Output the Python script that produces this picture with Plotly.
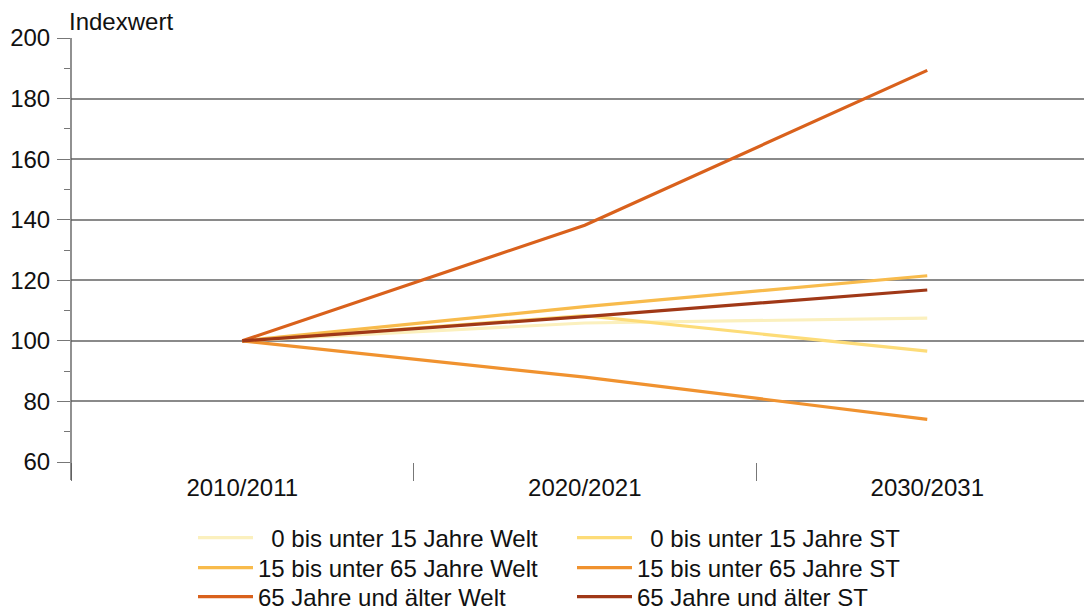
import plotly.graph_objects as go

categories = ["2010/2011", "2020/2021", "2030/2031"]
series_names = [
    "\u20070 bis unter 15 Jahre Welt",
    "\u20070 bis unter 15 Jahre ST",
    "15 bis unter 65 Jahre Welt",
    "15 bis unter 65 Jahre ST",
    "65 Jahre und älter Welt",
    "65 Jahre und älter ST",
]
welt_0_15 = [100, 105.9, 107.5]
st_0_15 = [100, 108.3, 96.6]
welt_15_65 = [100, 111.3, 121.5]
st_15_65 = [100, 88.0, 74.1]
welt_65 = [100, 138.2, 189.3]
st_65 = [100, 108.0, 116.8]
series_values = [welt_0_15, st_0_15, welt_15_65, st_15_65, welt_65, st_65]
colors = ["#FBF0BE", "#FDDC78", "#F8BB4C", "#F0922F", "#D9611C", "#A03817"]
legend_rows = ["legend", "legend", "legend2", "legend2", "legend3", "legend3"]

fig = go.Figure()
for name, vals, col, lg in zip(series_names, series_values, colors, legend_rows):
    fig.add_trace(go.Scatter(x=categories, y=vals, mode="lines", name=name,
                             legend=lg, line=dict(color=col, width=3.2)))

W, H = 1084, 610
ml, mr, mt, mb = 71, 0, 38, 148
ph = H - mt - mb
row_centers = [538, 568, 597]


def legend_cfg(py):
    return dict(orientation="h", x=(193 - ml) / (W - ml), xanchor="left",
                y=(H - mb - py) / ph, yanchor="middle",
                entrywidth=309, entrywidthmode="pixels",
                font=dict(size=24), itemwidth=55, tracegroupgap=0,
                bgcolor="rgba(0,0,0,0)")


fig.update_layout(
    width=W, height=H,
    margin=dict(l=ml, r=mr, t=mt, b=mb, pad=0, autoexpand=False),
    paper_bgcolor="white", plot_bgcolor="white",
    font=dict(family="Liberation Sans, Arial, sans-serif", size=24, color="#111"),
    showlegend=True,
    legend=legend_cfg(row_centers[0]),
    legend2=legend_cfg(row_centers[1]),
    legend3=legend_cfg(row_centers[2]),
    annotations=[dict(text="Indexwert", xref="paper", yref="paper", x=0, y=1,
                      xanchor="left", yanchor="bottom", showarrow=False,
                      font=dict(size=24), xshift=-4, yshift=1)],
)
fig.update_xaxes(
    type="category", categoryorder="array", categoryarray=categories,
    range=[-0.5, -0.5 + (W - ml) / 342.5],
    tickson="boundaries",
    ticks="outside", ticklen=18, tickcolor="#777", tickwidth=1.3,
    showgrid=False, showline=False, zeroline=False,
    tickfont=dict(size=24), ticklabelstandoff=9,
)
fig.update_yaxes(
    range=[60, 200], tickvals=[60, 80, 100, 120, 140, 160, 180, 200],
    ticks="outside", ticklen=13, tickcolor="#777", tickwidth=1.3,
    showgrid=True, gridcolor="#8a8a8a", gridwidth=1.5,
    showline=False, zeroline=False, tickfont=dict(size=24),
    ticklabelstandoff=2,
    minor=dict(tickvals=[70, 90, 110, 130, 150, 170, 190], ticks="outside",
               ticklen=6, tickcolor="#777", tickwidth=1.3, showgrid=False),
)
# vertical axis line extending down to tick length
fig.add_shape(type="line", xref="paper", yref="paper", x0=0, x1=0,
              y0=-18 / ph, y1=1, line=dict(color="#555", width=1.3))
fig.write_html("out.html", config={"displayModeBar": False},
               post_script="document.body.style.margin='0';")
